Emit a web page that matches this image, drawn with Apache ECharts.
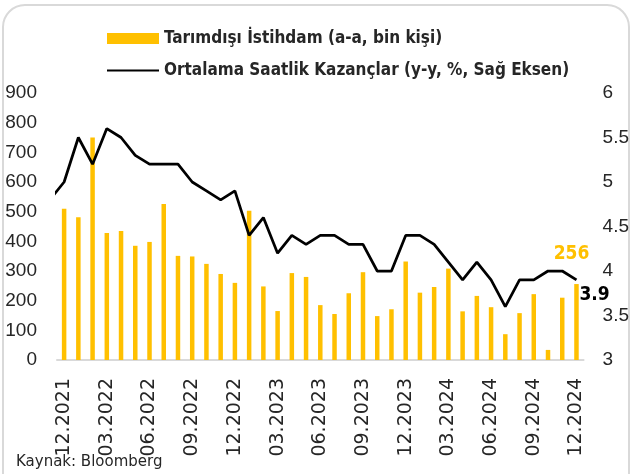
<!DOCTYPE html>
<html><head><meta charset="utf-8">
<script src="https://cdn.jsdelivr.net/npm/echarts@6/dist/echarts.min.js"></script>
<style>html,body{margin:0;padding:0;background:#fff}#c{width:632px;height:474px}</style>
</head><body><div id="c"></div>
<script>
const categories = ["12.2021","01.2022","02.2022","03.2022","04.2022","05.2022","06.2022","07.2022","08.2022","09.2022","10.2022","11.2022","12.2022","01.2023","02.2023","03.2023","04.2023","05.2023","06.2023","07.2023","08.2023","09.2023","10.2023","11.2023","12.2023","01.2024","02.2024","03.2024","04.2024","05.2024","06.2024","07.2024","08.2024","09.2024","10.2024","11.2024","12.2024"];
const payrolls = [510,481,750,428,435,385,398,526,351,349,324,290,260,503,248,165,293,280,185,155,225,296,148,171,332,227,246,308,164,216,178,87,158,222,34,210,256];
// earnings: first value is 11.2021 (partly visible at the left edge), then 12.2021 .. 12.2024
const earnings = [4.8,5.0,5.5,5.2,5.6,5.5,5.3,5.2,5.2,5.2,5.0,4.9,4.8,4.9,4.4,4.6,4.2,4.4,4.3,4.4,4.4,4.3,4.3,4.0,4.0,4.4,4.4,4.3,4.1,3.9,4.1,3.9,3.6,3.9,3.9,4.0,4.0,3.9];
const leftTicks = {min:0,max:900,interval:100};
const rightTicks = {min:3,max:6,interval:0.5};
const seriesNames = ["Tarımdışı İstihdam (a-a, bin kişi)","Ortalama Saatlik Kazançlar (y-y, %, Sağ Eksen)"];
const source = "Kaynak: Bloomberg";

const FONT = '"Liberation Sans Narrow","DejaVu Sans Condensed","Liberation Sans",sans-serif';
const AXF = '"Liberation Sans",sans-serif';
const XF = '"DejaVu Sans",sans-serif';
const chart = echarts.init(document.getElementById('c'), null, {renderer:'canvas'});
const lastIdx = payrolls.length - 1;
const lineData = earnings.map((v,i)=>[i-1, v]);
chart.setOption({
  animation:false,
  textStyle:{fontFamily:FONT},
  graphic:[
    {type:'rect',shape:{x:3,y:5,width:626,height:490,r:22},style:{fill:'none',stroke:'#D9D9D9',lineWidth:2},silent:true},
    {type:'text',left:16,top:455,style:{text:source,font:'15px '+XF,fill:'#262626'}}
  ],
  legend:{orient:'vertical',left:106,top:30,padding:0,itemWidth:52,itemHeight:11,itemGap:15,
    textStyle:{fontFamily:FONT,fontSize:17,fontWeight:'bold',color:'#262626'},
    data:[{name:seriesNames[0],icon:'rect'},{name:seriesNames[1],itemStyle:{opacity:0}}]},
  grid:{left:57,right:41.5,top:93,bottom:114,containLabel:false},
  xAxis:[
    {type:'category',data:categories,boundaryGap:true,
     axisLine:{lineStyle:{color:'#D9D9D9',width:2}},axisTick:{show:false},
     axisLabel:{interval:2,rotate:90,margin:18,fontSize:19,color:'#262626',fontFamily:XF}},
    {type:'value',min:-0.5,max:categories.length-0.5,show:false}
  ],
  yAxis:[
    {type:'value',min:leftTicks.min,max:leftTicks.max,interval:leftTicks.interval,splitLine:{show:false},
     axisLine:{show:false},axisTick:{show:false},axisLabel:{margin:20,fontSize:19,color:'#262626',fontFamily:AXF}},
    {type:'value',min:rightTicks.min,max:rightTicks.max,interval:rightTicks.interval,splitLine:{show:false},
     axisLine:{show:false},axisTick:{show:false},axisLabel:{margin:19,fontSize:19,color:'#262626',fontFamily:AXF}}
  ],
  series:[
    {name:seriesNames[0],type:'bar',xAxisIndex:0,yAxisIndex:0,barWidth:4.5,itemStyle:{color:'#FFC000'},
     data:payrolls.map((v,i)=> i===lastIdx ? {value:v,label:{show:true,position:'top',offset:[-5,-15],color:'#FFC000',fontSize:19,fontWeight:'bold',fontFamily:FONT}} : v)},
    {name:seriesNames[1],type:'line',xAxisIndex:1,yAxisIndex:1,symbol:'none',clip:true,
     lineStyle:{color:'#000',width:2.75},itemStyle:{color:'#000'},
     endLabel:{show:true,distance:3,offset:[0,15],formatter:p=>p.value[1].toFixed(1),color:'#000',fontSize:19,fontWeight:'bold',fontFamily:FONT},
     data:lineData}
  ]
});
</script></body></html>
